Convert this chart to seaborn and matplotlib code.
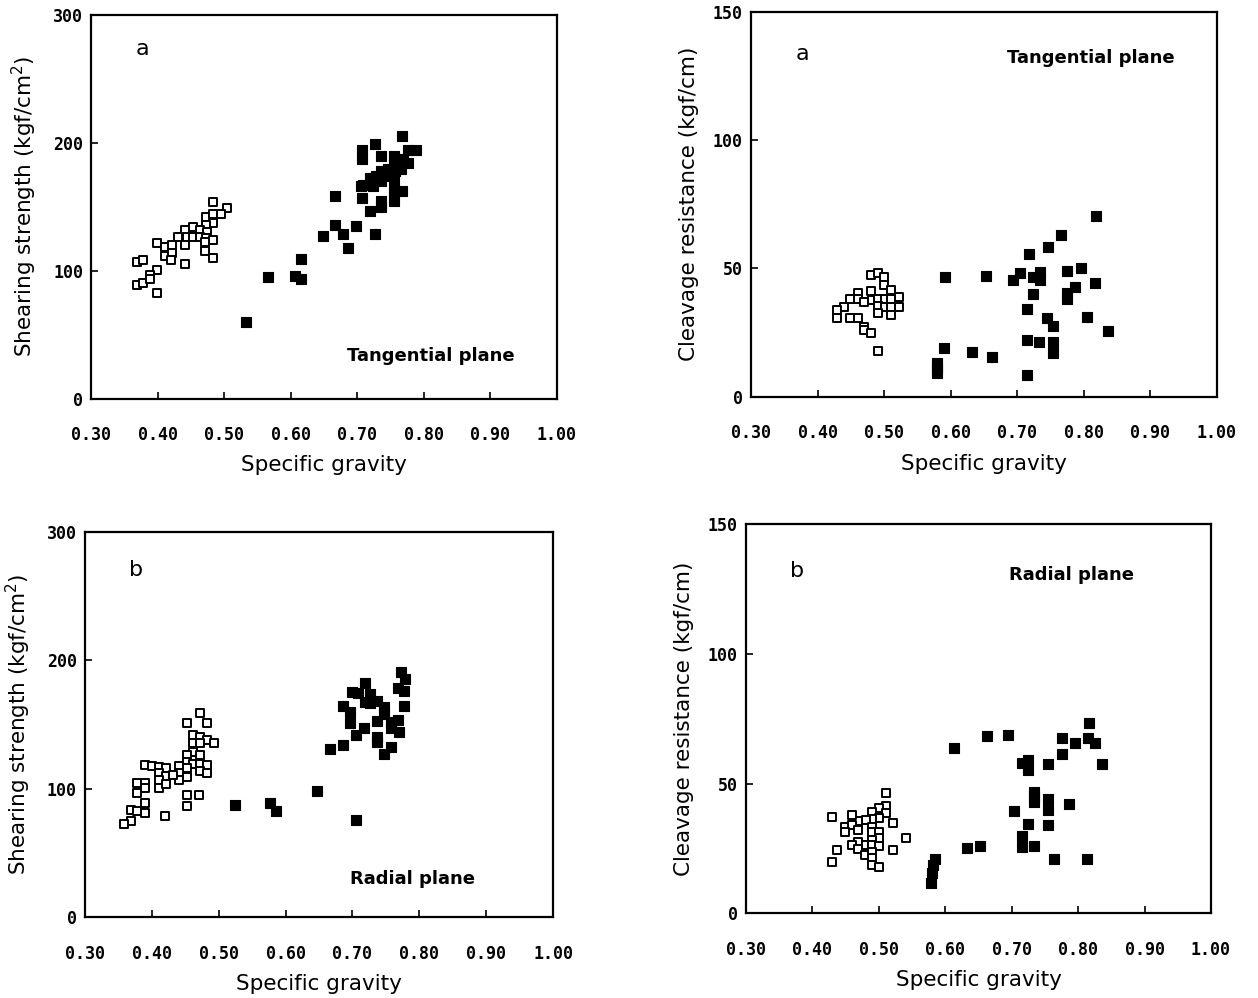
import pandas as pd
import matplotlib.pyplot as plt
import seaborn as sns

sns.set_theme(style='ticks')
plt.rcParams['font.family'] = ['DejaVu Sans']
plt.rcParams['text.color'] = 'black'
plt.rcParams['axes.labelcolor'] = 'black'

# panel (top left): shearing strength, tangential plane
tl_open_sg = [0.483, 0.504, 0.472, 0.483, 0.495, 0.483, 0.472, 0.441, 0.453, 0.463, 0.474, 0.430,
              0.444, 0.453, 0.463, 0.472, 0.483, 0.398, 0.411, 0.421, 0.441, 0.471, 0.411, 0.421,
              0.420, 0.471, 0.483, 0.368, 0.377, 0.441, 0.398, 0.388, 0.368, 0.377, 0.388, 0.398]
tl_open_val = [153.9, 149.2, 142.2, 144.5, 144.5, 137.5, 135.9, 132.0, 134.4, 132.0, 130.5, 126.6,
               126.6, 126.6, 126.6, 125.8, 124.2, 121.9, 118.8, 120.3, 120.3, 122.7, 111.7, 114.1,
               108.6, 115.6, 110.2, 107.0, 108.6, 105.5, 100.8, 96.9, 89.1, 90.6, 93.8, 82.8]
tl_fill_sg = [0.768, 0.727, 0.707, 0.707, 0.736, 0.756, 0.776, 0.788, 0.769, 0.776, 0.756, 0.746,
              0.736, 0.729, 0.746, 0.757, 0.766, 0.719, 0.709, 0.724, 0.736, 0.756, 0.706, 0.756,
              0.768, 0.707, 0.736, 0.736, 0.756, 0.719, 0.667, 0.667, 0.698, 0.649, 0.678, 0.727,
              0.686, 0.616, 0.565, 0.606, 0.615, 0.533]
tl_fill_val = [205.5, 199.0, 194.5, 187.3, 189.8, 189.8, 194.0, 194.0, 187.3, 184.1, 183.4, 179.5,
               177.6, 174.2, 174.2, 177.6, 179.5, 172.4, 167.2, 165.9, 169.8, 169.8, 165.9, 161.2,
               162.0, 156.8, 154.1, 149.7, 154.1, 146.3, 158.6, 135.9, 135.2, 127.3, 128.9, 128.9,
               117.7, 109.1, 95.1, 96.1, 93.5, 59.6]

# panel (top right): cleavage resistance, tangential plane
tr_open_sg = [0.480, 0.490, 0.500, 0.500, 0.510, 0.460, 0.480, 0.449, 0.460, 0.470, 0.481, 0.491,
              0.501, 0.511, 0.522, 0.440, 0.491, 0.501, 0.511, 0.522, 0.429, 0.429, 0.491, 0.510,
              0.449, 0.460, 0.470, 0.470, 0.480, 0.490]
tr_open_val = [47.4, 48.0, 46.5, 43.5, 41.5, 40.3, 41.3, 37.9, 37.9, 37.0, 37.7, 37.9,
               37.9, 37.9, 38.7, 35.0, 35.3, 34.8, 34.8, 34.8, 33.8, 30.5, 32.5, 31.8,
               30.5, 30.5, 27.3, 26.0, 24.7, 17.8]
tr_fill_sg = [0.818, 0.766, 0.746, 0.717, 0.591, 0.653, 0.694, 0.704, 0.724, 0.734, 0.734, 0.775,
              0.795, 0.817, 0.786, 0.775, 0.775, 0.724, 0.715, 0.745, 0.754, 0.805, 0.836, 0.715,
              0.733, 0.754, 0.754, 0.590, 0.632, 0.662, 0.580, 0.580, 0.580, 0.715]
tr_fill_val = [70.4, 63.0, 58.4, 55.6, 46.7, 47.0, 45.4, 48.0, 46.5, 48.7, 45.4, 49.1,
               50.0, 44.2, 42.6, 40.3, 37.9, 40.0, 34.2, 30.5, 27.6, 30.9, 25.6, 22.1,
               21.4, 21.4, 16.9, 18.8, 17.5, 15.6, 13.0, 11.0, 9.1, 8.5]

# panel (bottom left): shearing strength, radial plane
bl_open_sg = [0.472, 0.452, 0.483, 0.462, 0.472, 0.483, 0.493, 0.462, 0.472, 0.462, 0.452, 0.472,
              0.452, 0.462, 0.472, 0.483, 0.390, 0.400, 0.410, 0.421, 0.441, 0.452, 0.441, 0.441,
              0.452, 0.472, 0.483, 0.411, 0.421, 0.411, 0.411, 0.421, 0.431, 0.378, 0.390, 0.390,
              0.378, 0.452, 0.471, 0.452, 0.390, 0.390, 0.368, 0.378, 0.420, 0.368, 0.359]
bl_open_val = [159.4, 151.1, 151.1, 142.0, 140.7, 138.1, 136.0, 135.6, 135.6, 129.0, 126.5, 126.5,
               121.2, 119.5, 119.5, 118.7, 118.7, 117.9, 117.4, 116.1, 117.9, 116.1, 112.7, 107.0,
               109.6, 114.2, 112.7, 112.2, 110.1, 107.0, 100.5, 103.9, 110.9, 104.9, 104.4, 100.5,
               96.7, 95.3, 95.3, 86.8, 88.9, 81.1, 83.7, 83.1, 79.0, 75.1, 72.8]
bl_fill_sg = [0.773, 0.778, 0.768, 0.777, 0.777, 0.719, 0.699, 0.709, 0.726, 0.719, 0.726, 0.736,
              0.686, 0.697, 0.697, 0.747, 0.747, 0.736, 0.758, 0.768, 0.758, 0.769, 0.717, 0.705,
              0.736, 0.736, 0.686, 0.666, 0.758, 0.747, 0.647, 0.524, 0.576, 0.585, 0.706]
bl_fill_val = [190.8, 185.4, 178.8, 176.5, 164.8, 182.7, 175.7, 174.5, 173.9, 167.9, 167.2, 168.5,
               164.6, 160.2, 151.1, 164.0, 158.4, 153.2, 152.4, 153.7, 147.2, 144.6, 147.2, 142.0,
               140.2, 136.8, 134.2, 130.9, 132.9, 127.2, 98.7, 87.5, 89.3, 82.9, 75.9]

# panel (bottom right): cleavage resistance, radial plane
br_open_sg = [0.511, 0.511, 0.500, 0.511, 0.489, 0.500, 0.490, 0.480, 0.469, 0.459, 0.429, 0.522,
              0.449, 0.459, 0.469, 0.449, 0.490, 0.490, 0.500, 0.500, 0.541, 0.469, 0.459, 0.480,
              0.490, 0.490, 0.500, 0.437, 0.469, 0.479, 0.490, 0.522, 0.490, 0.490, 0.500, 0.429]
br_open_val = [46.5, 41.3, 40.4, 38.5, 39.1, 36.9, 36.2, 35.9, 35.6, 37.8, 37.2, 34.8,
               33.3, 34.0, 32.0, 31.4, 33.3, 31.4, 31.4, 29.2, 29.1, 27.5, 26.3, 26.3,
               28.2, 26.3, 25.9, 24.3, 24.6, 22.4, 23.7, 24.3, 21.2, 18.8, 17.9, 19.6]
br_fill_sg = [0.817, 0.663, 0.694, 0.775, 0.815, 0.795, 0.825, 0.613, 0.775, 0.715, 0.725, 0.725,
              0.755, 0.836, 0.734, 0.734, 0.734, 0.755, 0.755, 0.786, 0.704, 0.725, 0.755, 0.715,
              0.715, 0.734, 0.632, 0.653, 0.764, 0.814, 0.584, 0.582, 0.580, 0.578]
br_fill_val = [73.5, 68.2, 68.6, 67.7, 67.7, 65.6, 65.6, 63.7, 61.3, 58.1, 59.2, 55.1,
               57.7, 57.7, 46.8, 44.8, 42.9, 44.1, 40.0, 42.3, 39.3, 34.3, 34.0, 29.7,
               25.6, 26.0, 25.2, 26.0, 20.8, 20.9, 21.0, 18.5, 15.5, 11.5]

x_ticks = [0.30, 0.40, 0.50, 0.60, 0.70, 0.80, 0.90, 1.00]
x_ticklabels = ['0.30', '0.40', '0.50', '0.60', '0.70', '0.80', '0.90', '1.00']
shear_ticks = [0, 100, 200, 300]
cleave_ticks = [0, 50, 100, 150]

fig = plt.figure(figsize=(12.58, 9.98), dpi=100)

panels = [
    # axes rect, open, filled, yticks, ylabel, letter pos, letter, plane text, plane pos
    ([0.0727, 0.6007, 0.3697, 0.3843], (tl_open_sg, tl_open_val), (tl_fill_sg, tl_fill_val),
     shear_ticks, 'Shearing strength (kgf/cm$^2$)', (0.11, 0.91), 'a', 'Tangential plane', (0.73, 0.11)),
    ([0.5970, 0.6025, 0.3704, 0.3858], (tr_open_sg, tr_open_val), (tr_fill_sg, tr_fill_val),
     cleave_ticks, 'Cleavage resistance (kgf/cm)', (0.11, 0.89), 'a', 'Tangential plane', (0.73, 0.88)),
    ([0.0676, 0.0807, 0.3720, 0.3863], (bl_open_sg, bl_open_val), (bl_fill_sg, bl_fill_val),
     shear_ticks, 'Shearing strength (kgf/cm$^2$)', (0.11, 0.90), 'b', 'Radial plane', (0.70, 0.10)),
    ([0.5930, 0.0849, 0.3696, 0.3898], (br_open_sg, br_open_val), (br_fill_sg, br_fill_val),
     cleave_ticks, 'Cleavage resistance (kgf/cm)', (0.11, 0.88), 'b', 'Radial plane', (0.70, 0.87)),
]

tick_font = {'family': 'DejaVu Sans Mono', 'weight': 'bold', 'size': 12}

for rect, op, fl, yt, ylab, lpos, letter, plane, ppos in panels:
    ax = fig.add_axes(rect)
    d_open = pd.DataFrame({'sg': op[0], 'val': op[1]})
    d_fill = pd.DataFrame({'sg': fl[0], 'val': fl[1]})
    sns.scatterplot(data=d_fill, x='sg', y='val', marker='s', s=42, color='black',
                    edgecolor='black', linewidth=0.8, ax=ax)
    sns.scatterplot(data=d_open, x='sg', y='val', marker='s', s=34, color='white',
                    edgecolor='black', linewidth=1.4, ax=ax)
    ax.set_xlim(0.30, 1.00)
    ax.set_ylim(yt[0], yt[-1])
    ax.set_xticks(x_ticks)
    ax.set_xticklabels(x_ticklabels, fontdict=tick_font)
    ax.set_yticks(yt)
    ax.set_yticklabels([str(v) for v in yt], fontdict=tick_font)
    ax.tick_params(direction='in', length=5, width=1.2, colors='black')
    ax.tick_params(axis='x', pad=20)
    ax.tick_params(axis='y', pad=6)
    for sp in ax.spines.values():
        sp.set_linewidth(1.6)
        sp.set_color('black')
    ax.set_xlabel('Specific gravity', fontsize=15.5, labelpad=8)
    ax.set_ylabel(ylab, fontsize=15.5, labelpad=10)
    ax.text(lpos[0], lpos[1], letter, transform=ax.transAxes, fontsize=16, ha='center', va='center')
    ax.text(ppos[0], ppos[1], plane, transform=ax.transAxes, fontsize=13, fontweight='bold',
            ha='center', va='center')

plt.savefig('out.png', dpi=100)
